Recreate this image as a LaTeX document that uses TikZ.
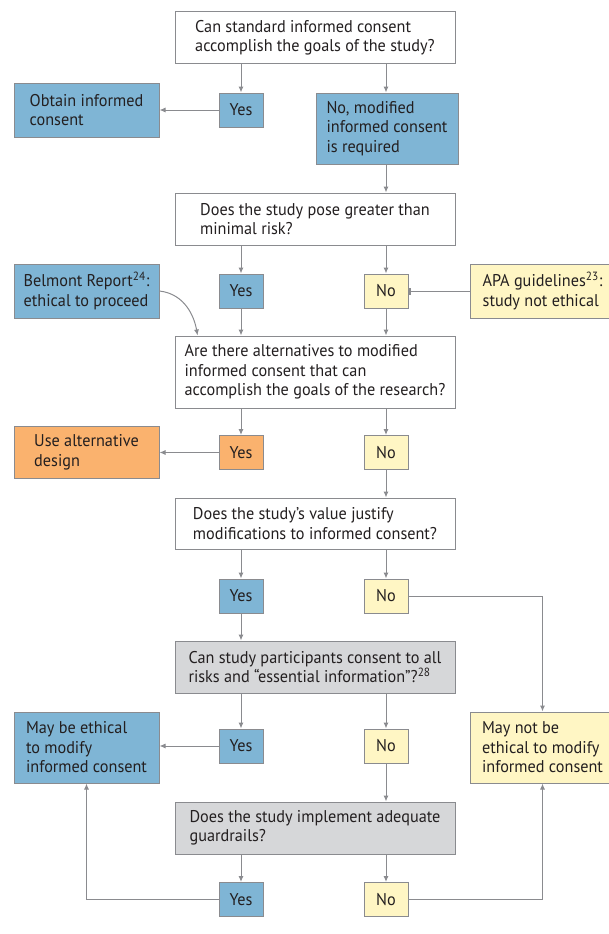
\documentclass[tikz,border=0pt]{standalone}
\usepackage{fontspec}
\setmainfont{PT Sans}[FakeStretch=0.955]
\usetikzlibrary{arrows.meta,positioning,calc}
\definecolor{boxblue}{RGB}{127,181,213}
\definecolor{boxyellow}{RGB}{255,246,196}
\definecolor{boxorange}{RGB}{250,178,110}
\definecolor{boxgray}{RGB}{214,215,217}
\definecolor{linegray}{RGB}{138,139,143}
\definecolor{txt}{RGB}{35,31,32}
\tikzset{
  box/.style={draw=linegray,line width=1pt,inner sep=0pt,text=txt,align=left,
    font=\fontsize{17}{19.5}\selectfont},
  question/.style={box,fill=white,minimum width=280,minimum height=52},
  answer/.style={box,minimum width=44,minimum height=34},
  side/.style={box,minimum width=145}
}
\tikzset{
  arr/.style={draw=linegray,line width=1pt,-{Latex[length=6,width=5]}},
  barline/.style={draw=linegray,line width=1pt,-{Rectangle[length=2.5,width=7]}}
}
\begin{document}
\begin{tikzpicture}[x=1pt,y=-1pt]
\useasboundingbox (0,0) rectangle (609,934);

\node[question] (q1) at (315,38) {Can standard informed consent\\accomplish the goals of the study?};
\node[answer,fill=boxblue] (yes1) at (241,110) {Yes};
\node[side,fill=boxblue,minimum height=54] (obtain) at (86.5,110) {Obtain informed\\consent};
\node[box,fill=boxblue,minimum width=142,minimum height=71] (no1) at (387,128.5) {No, modified\\informed consent\\is required};

\node[question] (q2) at (315,219) {Does the study pose greater than\\minimal risk?};
\node[side,fill=boxblue,minimum height=54] (belmont) at (86.5,291) {Belmont Report\textsuperscript{24}:\\ethical to proceed};
\node[answer,fill=boxblue] (yes2) at (241,291) {Yes};
\node[answer,fill=boxyellow] (no2) at (386,291) {No};
\node[side,fill=boxyellow,minimum height=54] (apa) at (542.5,291) {APA guidelines\textsuperscript{23}:\\study not ethical};

\node[question,minimum height=72] (q3) at (315,372) {Are there alternatives to modified\\informed consent that can\\accomplish the goals of the research?};
\node[answer,fill=boxorange] (yes3) at (241,452.5) {Yes};
\node[side,fill=boxorange,minimum height=52] (usealt) at (86.5,452.5) {Use alternative\\design};
\node[answer,fill=boxyellow] (no3) at (386,452.5) {No};

\node[question,minimum height=51] (q4) at (315,523.5) {Does the study’s value justify\\modifications to informed consent?};
\node[answer,fill=boxblue] (yes4) at (241,596) {Yes};
\node[answer,fill=boxyellow] (no4) at (386,596) {No};

\node[question,fill=boxgray] (q5) at (315,667) {Can study participants consent to all\\risks and “essential information”?\textsuperscript{28}};
\node[answer,fill=boxblue] (yes5) at (241,746) {Yes};
\node[answer,fill=boxyellow] (no5) at (386,746) {No};
\node[side,fill=boxblue,minimum height=71] (maybe) at (86.5,747.5) {May be ethical\\to modify\\informed consent};
\node[side,fill=boxyellow,minimum height=71] (maynot) at (542.5,747.5) {May not be\\ethical to modify\\informed consent};

\node[question,fill=boxgray] (q6) at (315,828) {Does the study implement adequate\\guardrails?};
\node[answer,fill=boxblue] (yes6) at (241,899.5) {Yes};
\node[answer,fill=boxyellow] (no6) at (386,899.5) {No};

% first question
\draw[arr] (q1.south -| yes1.north) -- (yes1.north);
\draw[arr] (q1.south -| no2.north) -- (no1.north -| no2.north);
\draw[arr] (yes1.west) -- (obtain.east);
\draw[arr] (no1.south -| no2.north) -- (q2.north -| no2.north);

% risk
\draw[arr] (q2.south -| yes2.north) -- (yes2.north);
\draw[arr] (q2.south -| no2.north) -- (no2.north);
\draw[barline] (apa.west) -- (no2.east);
\draw[arr] (yes2.south) -- (q3.north -| yes2.south);
\draw[arr] (no2.south) -- (q3.north -| no2.south);
\draw[arr] (belmont.east) .. controls ($(belmont.east)+(26,3)$) and ($(q3.north west)+(20,-18)$) .. ($(q3.north west)+(23,0)$);

% alternatives
\draw[arr] (q3.south -| yes3.north) -- (yes3.north);
\draw[arr] (q3.south -| no3.north) -- (no3.north);
\draw[arr] (yes3.west) -- (usealt.east);
\draw[arr] (no3.south) -- (q4.north -| no3.south);

% value
\draw[arr] (q4.south -| yes4.north) -- (yes4.north);
\draw[arr] (q4.south -| no4.north) -- (no4.north);
\draw[arr] (yes4.south) -- (q5.north -| yes4.south);
\draw[arr] (no4.east) -| (maynot.north);

% consent
\draw[arr] (q5.south -| yes5.north) -- (yes5.north);
\draw[arr] (q5.south -| no5.north) -- (no5.north);
\draw[arr] (yes5.west) -- (maybe.east |- yes5.west);
\draw[arr] (no5.south) -- (q6.north -| no5.south);

% guardrails
\draw[arr] (q6.south -| yes6.north) -- (yes6.north);
\draw[arr] (q6.south -| no6.north) -- (no6.north);
\draw[arr] (yes6.west) -| (maybe.south);
\draw[arr] (no6.east) -| (maynot.south);
\end{tikzpicture}
\end{document}
